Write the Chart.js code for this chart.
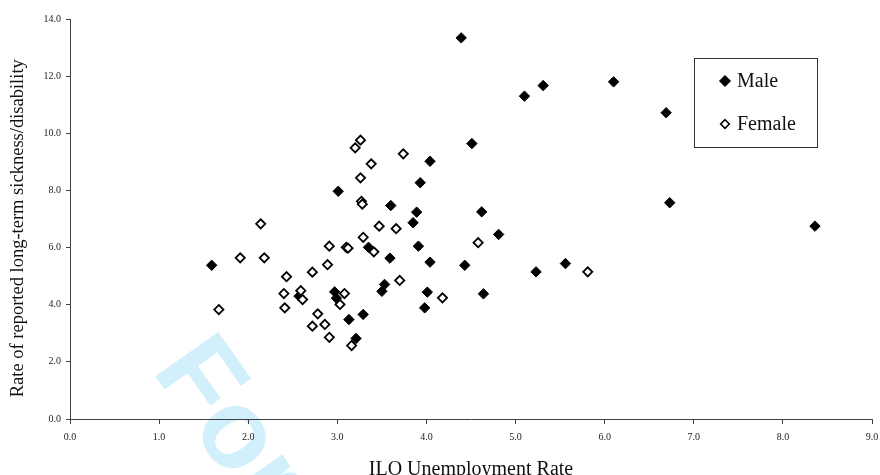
<!DOCTYPE html>
<html>
<head>
<meta charset="utf-8">
<script src="https://cdn.jsdelivr.net/npm/chart.js@4"></script>
<style>
html,body{margin:0;padding:0;background:#fff;}
#wrap{width:880px;height:475px;position:relative;}
</style>
</head>
<body>
<div id="wrap"><canvas id="c" width="880" height="475"></canvas></div>
<script>
const xTitle = "ILO Unemployment Rate";
const yTitle = "Rate of reported long-term sickness/disability";
const seriesNames = ["Male", "Female"];

const maleX = [1.59, 2.57, 2.97, 2.99, 3.01, 3.13, 3.21, 3.29, 3.35, 3.50, 3.53, 3.59, 3.60, 3.85, 3.89, 3.91, 3.93, 3.98, 4.01, 4.04, 4.04, 4.39, 4.43, 4.51, 4.62, 4.64, 4.81, 5.10, 5.23, 5.31, 5.56, 6.10, 6.69, 6.73, 8.36];
const maleY = [5.38, 4.30, 4.45, 4.23, 7.97, 3.48, 2.82, 3.66, 6.01, 4.47, 4.71, 5.63, 7.47, 6.87, 7.24, 6.05, 8.27, 3.89, 4.44, 5.49, 9.02, 13.34, 5.38, 9.64, 7.25, 4.38, 6.46, 11.30, 5.15, 11.67, 5.44, 11.80, 10.72, 7.57, 6.75];

const femaleX = [1.67, 1.91, 2.14, 2.18, 2.40, 2.41, 2.43, 2.59, 2.61, 2.72, 2.72, 2.78, 2.86, 2.89, 2.91, 2.91, 3.03, 3.08, 3.10, 3.12, 3.16, 3.20, 3.26, 3.26, 3.27, 3.28, 3.29, 3.38, 3.41, 3.47, 3.66, 3.70, 3.74, 4.18, 4.58, 5.81];
const femaleY = [3.83, 5.64, 6.83, 5.64, 4.39, 3.89, 4.98, 4.49, 4.18, 5.14, 3.25, 3.68, 3.31, 5.40, 6.05, 2.86, 4.01, 4.39, 6.01, 5.98, 2.57, 9.49, 9.76, 8.44, 7.62, 7.52, 6.36, 8.93, 5.85, 6.75, 6.66, 4.85, 9.28, 4.24, 6.17, 5.15];

const xTicks = [0, 1, 2, 3, 4, 5, 6, 7, 8, 9];
const yTicks = [0, 2, 4, 6, 8, 10, 12, 14];

const toPts = (xs, ys) => xs.map((x, i) => ({x: x, y: ys[i]}));

const SERIF = "'Liberation Serif', 'Times New Roman', serif";

const watermark = {
  id: 'watermark',
  beforeDraw(chart) {
    const ctx = chart.ctx;
    ctx.save();
    ctx.translate(151, 370);
    ctx.rotate(55 * Math.PI / 180);
    ctx.font = "bold 112px 'Liberation Sans', Arial, sans-serif";
    ctx.fillStyle = '#d2effc';
    ctx.textBaseline = 'alphabetic';
    ctx.fillText('For Peer Review', 0, 0);
    ctx.restore();
  }
};

const boxLegend = {
  id: 'boxLegend',
  afterDraw(chart) {
    const ctx = chart.ctx;
    ctx.save();
    ctx.strokeStyle = '#333';
    ctx.lineWidth = 1;
    ctx.strokeRect(694.5, 58.5, 123, 89);
    ctx.font = "20px " + SERIF;
    ctx.fillStyle = '#111';
    ctx.textBaseline = 'middle';
    const rows = [81, 124];
    chart.data.datasets.forEach((ds, i) => {
      const cy = rows[i];
      const cx = 725;
      const r = i === 0 ? 5.5 : 4.3;
      ctx.beginPath();
      ctx.moveTo(cx, cy - r);
      ctx.lineTo(cx + r, cy);
      ctx.lineTo(cx, cy + r);
      ctx.lineTo(cx - r, cy);
      ctx.closePath();
      ctx.fillStyle = ds.backgroundColor;
      ctx.fill();
      ctx.lineWidth = i === 0 ? 1 : 1.6;
      ctx.strokeStyle = '#000';
      ctx.stroke();
      ctx.fillStyle = '#111';
      ctx.fillText(ds.label, 737, cy + 1);
    });
    ctx.restore();
  }
};

new Chart(document.getElementById('c'), {
  type: 'scatter',
  data: {
    datasets: [
      {
        label: seriesNames[0],
        data: toPts(maleX, maleY),
        pointStyle: 'rectRot',
        pointRadius: 5.2,
        backgroundColor: '#000',
        borderColor: '#000',
        borderWidth: 1,
        order: 1
      },
      {
        label: seriesNames[1],
        data: toPts(femaleX, femaleY),
        pointStyle: 'rectRot',
        pointRadius: 4.6,
        backgroundColor: '#fff',
        borderColor: '#000',
        borderWidth: 1.8,
        order: 0
      }
    ]
  },
  options: {
    responsive: false,
    animation: false,
    devicePixelRatio: 1,
    layout: { padding: { top: 19, right: 0, left: 0, bottom: 0 } },
    plugins: {
      legend: { display: false },
      tooltip: { enabled: false }
    },
    scales: {
      x: {
        type: 'linear',
        min: 0, max: 9,
        afterBuildTicks: (s) => { s.ticks = xTicks.map(v => ({value: v})); },
        afterFit: (s) => { s.height = 56; s.paddingRight = 8; s.paddingLeft = 0; },
        grid: { display: true, drawOnChartArea: false, drawTicks: true, tickLength: 5, color: '#404040', tickColor: '#404040' },
        border: { display: true, color: '#404040', width: 1 },
        ticks: {
          padding: 7,
          color: '#222',
          font: { family: SERIF, size: 10 },
          callback: (v) => Number(v).toFixed(1),
          maxRotation: 0
        },
        title: {
          display: true,
          text: xTitle,
          color: '#111',
          font: { family: SERIF, size: 20 },
          padding: { top: 0, bottom: -7 }
        }
      },
      y: {
        type: 'linear',
        min: 0, max: 14,
        afterBuildTicks: (s) => { s.ticks = yTicks.map(v => ({value: v})); },
        afterFit: (s) => { s.width = 70; },
        grid: { display: true, drawOnChartArea: false, drawTicks: true, tickLength: 4, color: '#404040', tickColor: '#404040' },
        border: { display: true, color: '#404040', width: 1 },
        ticks: {
          padding: 5,
          color: '#222',
          font: { family: SERIF, size: 10 },
          callback: (v) => Number(v).toFixed(1)
        },
        title: {
          display: true,
          text: yTitle + '    ',
          color: '#111',
          font: { family: SERIF, size: 18.5 },
          padding: { top: 7, bottom: 0 }
        }
      }
    }
  },
  plugins: [watermark, boxLegend]
});
</script>
</body>
</html>
